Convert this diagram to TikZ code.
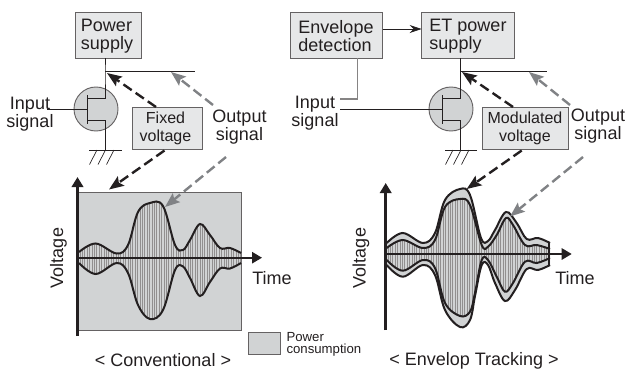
\documentclass[tikz,border=0pt]{standalone}
\usepackage{fontspec}
\setmainfont{Liberation Sans}
\usetikzlibrary{arrows.meta}
\definecolor{ink}{HTML}{231F20}
\definecolor{boxfill}{HTML}{E6E7E8}
\definecolor{midfill}{HTML}{D1D3D4}
\definecolor{dgray}{HTML}{808285}
\newcommand{\bigfont}{\fontsize{13.5}{13.5}\selectfont}
\newcommand{\midfont}{\fontsize{12}{13.5}\selectfont}
\newcommand{\smallfont}{\fontsize{9.9}{9}\selectfont}
% envelopes (px)
\newcommand{\LT}{(79,252)(95.7,243.5)(116.7,253.5)(128,245)(138,212)(150,203)(163,206)(175,245)(183,250)(190,240)(200,224)(210,235)(220,248)(230,248)(241,253)}
\newcommand{\LB}{(241,263)(230,268.5)(220,268.5)(210,282)(200,296)(190,278)(183,266.5)(175,270)(163,310)(150,319)(138,305)(128,273)(116.7,263)(95.7,274)(79,263)}
\newcommand{\ROT}{(386.7,243)(402.7,233)(423,243)(435,233)(445,200)(460,189)(470,195)(481,238)(488,241)(495,230)(506,212)(516.7,223)(526.7,239)(538,238)(550,243)}
\newcommand{\RIT}{(386.7,248)(402.7,240)(423,248)(435,240)(445,207)(460,199)(470,205)(481.7,245)(488,246.7)(496.7,235)(506,218)(513,225)(525,245)(536.7,245)(550,249)}
\newcommand{\ROB}{(550,265)(538,270)(526.7,269)(515,290)(505,301)(495,283)(488,265)(481.7,265)(475,296)(470,320)(460,327)(445,310)(435,275)(423,265)(402.7,276.7)(386.7,265)}
\newcommand{\RIB}{(550,258)(536.7,263)(525,261.7)(513,283)(505,291.7)(496.7,276.7)(488,260)(481.7,260)(475,293)(470,311.7)(460,316)(445,303)(435,268)(423,260)(402.7,270.7)(386.7,260)}
\tikzset{
  x=0.75pt,y=-0.75pt,
  every node/.style={text=ink,inner sep=0pt,outer sep=0pt},
  block/.style={draw=ink!70,fill=boxfill,line width=0.65pt,align=left,font=\bigfont,anchor=north west},
  label/.style={align=center,font=\bigfont,anchor=center},
  wire/.style={draw=ink,line width=0.6pt},
  graywire/.style={draw=ink!55,line width=0.9pt},
  device/.style={draw=ink!70,fill=midfill,line width=0.7pt,circle,minimum size=33pt},
  blackdash/.style={draw=ink,line width=1.8pt,dash pattern=on 7.5pt off 3.6pt},
  graydash/.style={draw=dgray,line width=1.8pt,dash pattern=on 7.5pt off 3.6pt},
  tipb/.style={-{Stealth[length=11pt,width=8.5pt,inset=2pt,fill=ink]}},
  tipg/.style={-{Stealth[length=11pt,width=8.5pt,inset=2pt,fill=dgray]}},
  axis/.style={draw=ink,line width=2pt},
  axistip/.style={-{Triangle[length=7.5pt,width=8.5pt]}},
  envline/.style={draw=ink,line width=1.5pt},
  hatch/.style={draw=ink!50,line width=0.55pt},
}
\newcommand{\hatchlines}[3]{%
  \foreach \hx in {#1,#3,...,#2}{\draw[hatch] (\hx,180) -- (\hx,335);}}
\begin{document}
\begin{tikzpicture}
\useasboundingbox (0,0) rectangle (625,372);
% ===== left circuit =====
\node[block,minimum width=50pt,minimum height=34pt] (ps) at (75,12.7) {};
\node[label,align=left] (pst) at (107,36) {Power\\supply};
\coordinate (lj) at (105,71);
\coordinate (lend) at (195,71);
\coordinate (lg) at (105,150);
\node[device] (lq) at (96,109) {};
\draw[wire] (ps.south -| lj) -- (lj) -- (105,98) -- (87.5,98);
\draw[wire] (87.5,120) -- (105,120) -- (lg);
\draw[wire] (lj) -- (lend);
\draw[wire,line width=0.9pt] (87.5,95) -- (87.5,124);
\coordinate (lgate) at (47,109);
\draw[wire] (lgate) -- (87.5,109);
\draw[wire] (89,150) -- (122,150);
\foreach \hx in {97,105.5,114}{\draw[wire,line width=0.5pt] (\hx,150) -- (\hx-7.5,164.5);}
\node[label] (lin) at (30,114) {Input\\signal};
\node[block,minimum width=52pt,minimum height=31pt,font=\midfont] (fv) at (132.7,107.7) {};
\node[label,font=\midfont] (fvt) at (165.5,128.5) {Fixed\\voltage};
\node[label] (lout) at (239.5,127) {Output\\signal};
% left arrows
\coordinate (la1) at (156,107);
\coordinate (la2) at (107,73);
\coordinate (la3) at (164.5,150.5);
\coordinate (la4) at (109,189.5);
\coordinate (lb1) at (213,105);
\coordinate (lb2) at (171,72);
\coordinate (lb3) at (226,157);
\coordinate (lb4) at (165,207);
% ===== left plot =====
\node[draw=ink!70,fill=midfill,line width=0.7pt,minimum width=122.5pt,minimum height=103.5pt,anchor=north west] (lplot) at (78.3,192.7) {};
\begin{scope}
  \clip plot[smooth,tension=0.6] coordinates {\LT} -- plot[smooth,tension=0.6] coordinates {\LB} -- cycle;
  \fill[midfill] (75,190) rectangle (245,330);
  \hatchlines{80}{241}{82.4}
\end{scope}
\draw[envline] plot[smooth,tension=0.6] coordinates {\LT};
\draw[envline] plot[smooth,tension=0.6] coordinates {\LB};
\coordinate (lv0) at (77.5,336);
\coordinate (lv1) at (77.5,177);
\coordinate (lh0) at (78,257.7);
\coordinate (lh1) at (262,257.7);
\draw[axis,axistip] (lv0) -- (lv1);
\draw[axis,line width=1.4pt,axistip] (lh0) -- (lh1);
\draw[blackdash,tipb] (la1) -- (la2);
\draw[blackdash,tipb] (la3) -- (la4);
\draw[graydash,tipg] (lb1) -- (lb2);
\draw[graydash,tipg] (lb3) -- (lb4);
\node[label,rotate=90] (lvt) at (58.5,258) {Voltage};
\node[label] (lti) at (272,278.5) {Time};
\node[label] (lcap) at (163,360.5) {<\ Conventional\ >};
% legend
\node[draw=ink!70,fill=midfill,line width=0.7pt,minimum width=24pt,minimum height=16.5pt,anchor=north west] (leg) at (248.7,332.7) {};
\node[font=\smallfont,align=left,anchor=west] (legt) at (286.5,344) {Power\\consumption};
% ===== right circuit =====
\node[block,minimum width=69.5pt,minimum height=34pt] (ed) at (290,12.7) {};
\node[label,align=left] (edt) at (336,36) {Envelope\\detection};
\node[block,minimum width=69.5pt,minimum height=34pt] (et) at (421.7,12.7) {};
\node[label,align=left] (ett) at (468,36) {ET power\\supply};
\draw[wire,-{Stealth[length=9pt,width=6pt]}] (ed.east |- 0,29) -- (et.west |- 0,29);
\coordinate (rj) at (460.3,71);
\coordinate (rend) at (546.7,71);
\coordinate (rg) at (460.3,150);
\node[device] (rq) at (451,109) {};
\draw[wire] (et.south -| rj) -- (rj) -- (460.3,98) -- (442.5,98);
\draw[wire] (442.5,120) -- (460.3,120) -- (rg);
\draw[wire] (rj) -- (rend);
\draw[wire,line width=0.9pt] (442.5,95) -- (442.5,124);
\coordinate (rgate) at (340,109);
\coordinate (rdet) at (340,99);
\draw[wire] (rgate) -- (442.5,109);
\draw[graywire] (ed.south -| 357.3,0) -- (357.3,99) -- (rdet);
\draw[wire] (445,150) -- (477,150);
\foreach \hx in {453,461,469}{\draw[wire,line width=0.5pt] (\hx,150) -- (\hx-7.5,164.5);}
\node[label] (rin) at (315,113) {Input\\signal};
\node[block,minimum width=64.5pt,minimum height=31pt,font=\midfont] (mv) at (482,107.7) {};
\node[label,font=\midfont] (mvt) at (525,128.5) {Modulated\\voltage};
\node[label] (rout) at (598,126) {Output\\signal};
% right arrows
\coordinate (ra1) at (513,107);
\coordinate (ra2) at (462,72);
\coordinate (ra3) at (521.7,150.5);
\coordinate (ra4) at (466.7,189);
\coordinate (rb1) at (570,105);
\coordinate (rb2) at (529,72);
\coordinate (rb3) at (583,157);
\coordinate (rb4) at (510,216.5);
% ===== right plot =====
\fill[midfill] plot[smooth,tension=0.6] coordinates {\ROT} -- plot[smooth,tension=0.6] coordinates {\ROB} -- cycle;
\begin{scope}
  \clip plot[smooth,tension=0.6] coordinates {\RIT} -- plot[smooth,tension=0.6] coordinates {\RIB} -- cycle;
  \fill[midfill] (380,185) rectangle (555,330);
  \hatchlines{388}{550}{390.4}
\end{scope}
\draw[envline] plot[smooth,tension=0.6] coordinates {\ROT};
\draw[envline] plot[smooth,tension=0.6] coordinates {\ROB};
\draw[envline] plot[smooth,tension=0.6] coordinates {\RIT};
\draw[envline] plot[smooth,tension=0.6] coordinates {\RIB};
\coordinate (re0) at (549,243);
\coordinate (re1) at (549,265);
\draw[axis,line width=2.2pt] (re0) -- (re1);
\coordinate (rv0) at (385.7,330);
\coordinate (rv1) at (385.7,183);
\coordinate (rh0) at (386,254);
\coordinate (rh1) at (571.7,254);
\draw[axis,axistip] (rv0) -- (rv1);
\draw[axis,line width=1.4pt,axistip] (rh0) -- (rh1);
\draw[blackdash,tipb] (ra1) -- (ra2);
\draw[blackdash,tipb] (ra3) -- (ra4);
\draw[graydash,tipg] (rb1) -- (rb2);
\draw[graydash,tipg] (rb3) -- (rb4);
\node[label,rotate=90] (rvt) at (361,258) {Voltage};
\node[label] (rti) at (575,278.5) {Time};
\node[label] (rcap) at (474,361) {<\ Envelop Tracking\ >};
\end{tikzpicture}
\end{document}
